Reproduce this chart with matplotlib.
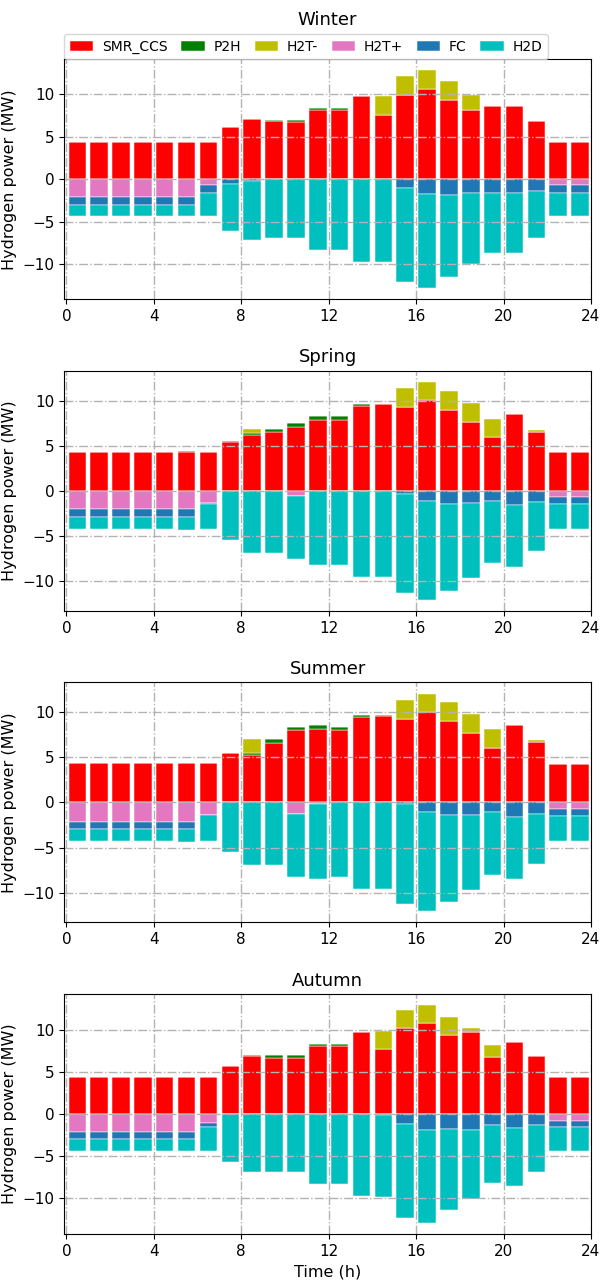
#%%
import numpy
import matplotlib

matplotlib.use("Agg")
import matplotlib.pyplot as plt

hours = numpy.arange(24)
seasons = ["Winter", "Spring", "Summer", "Autumn"]
names = ["SMR_CCS", "P2H", "H2T-", "H2T+", "FC", "H2D"]
colors = ["red", "green", "y", "tab:pink", "tab:blue", "c"]

#%% winter
smrW = [4.33, 4.33, 4.33, 4.33, 4.33, 4.33, 4.33, 6.17, 7.07, 6.84, 6.68, 8.09,
        8.09, 9.73, 7.58, 9.92, 10.63, 9.30, 8.13, 8.55, 8.55, 6.80, 4.33, 4.33]
p2hW = [0, 0, 0, 0, 0, 0, 0, 0, 0, 0.10, 0.23, 0.27,
        0.27, 0, 0, 0, 0, 0, 0, 0, 0, 0, 0, 0]
h2tmW = [0, 0, 0, 0, 0, 0, 0, 0, 0, 0, 0, 0,
         0, 0, 2.15, 2.23, 2.15, 2.19, 1.72, 0, 0, 0, 0, 0]
h2tpW = [2.13, 2.13, 2.13, 2.13, 2.13, 2.13, 0.72, 0, 0, 0, 0, 0,
         0, 0, 0, 0, 0, 0, 0, 0, 0, 0, 0.70, 0.70]
fcW = [0.87, 0.87, 0.87, 0.87, 0.87, 0.87, 0.88, 0.60, 0.15, 0, 0, 0,
       0, 0, 0, 1.05, 1.76, 1.80, 1.64, 1.64, 1.64, 1.40, 0.90, 0.90]
h2dW = [1.30, 1.30, 1.30, 1.30, 1.30, 1.30, 2.73, 5.50, 6.92, 6.95, 6.92, 8.30,
        8.30, 9.70, 9.75, 11.05, 11.04, 9.65, 8.26, 6.96, 6.96, 5.48, 2.73, 2.73]

#%% spring
smrSp = [4.33, 4.33, 4.33, 4.33, 4.33, 4.33, 4.33, 5.41, 6.22, 6.52, 7.15, 7.89,
         7.89, 9.44, 9.67, 9.30, 10.07, 9.04, 7.63, 5.96, 8.52, 6.59, 4.33, 4.33]
p2hSp = [0, 0, 0, 0, 0, 0.05, 0, 0.15, 0.22, 0.37, 0.45, 0.44,
         0.44, 0.22, 0, 0, 0, 0, 0, 0, 0, 0, 0, 0]
h2tmSp = [0, 0, 0, 0, 0, 0, 0, 0, 0.44, 0, 0, 0,
          0, 0, 0, 2.10, 2.07, 2.07, 2.15, 2.07, 0, 0.18, 0, 0]
h2tpSp = [2.07, 2.07, 2.07, 2.07, 2.07, 2.07, 1.33, 0, 0, 0, 0.63, 0,
          0, 0, 0, 0, 0, 0, 0, 0, 0, 0, 0.67, 0.67]
fcSp = [0.86, 0.86, 0.86, 0.86, 0.86, 0.86, 0.10, 0, 0, 0, 0, 0,
        0, 0, 0, 0.33, 1.10, 1.52, 1.41, 1.15, 1.63, 1.30, 0.81, 0.81]
h2dSp = [1.35, 1.35, 1.35, 1.35, 1.35, 1.45, 2.82, 5.50, 6.87, 6.87, 6.92, 8.27,
         8.27, 9.63, 9.63, 11.07, 11.00, 9.58, 8.29, 6.89, 6.87, 5.43, 2.77, 2.77]

#%% summer
smrSu = [4.30, 4.30, 4.30, 4.30, 4.30, 4.30, 4.30, 5.40, 5.22, 6.58, 7.98, 8.16,
         7.98, 9.45, 9.52, 9.19, 9.96, 9.00, 7.65, 5.96, 8.53, 6.62, 4.28, 4.28]
p2hSu = [0, 0, 0, 0, 0, 0.10, 0, 0.10, 0.26, 0.37, 0.37, 0.40,
         0.37, 0.22, 0.10, 0, 0, 0, 0, 0, 0, 0, 0, 0]
h2tmSu = [0, 0, 0, 0, 0, 0, 0, 0, 1.51, 0, 0, 0,
          0, 0, 0, 2.10, 2.06, 2.06, 2.10, 2.10, 0, 0.22, 0, 0]
h2tpSu = [2.13, 2.13, 2.13, 2.13, 2.13, 2.13, 1.36, 0, 0, 0, 1.32, 0.15,
          0, 0, 0, 0, 0, 0, 0, 0, 0, 0, 0.70, 0.70]
fcSu = [0.78, 0.78, 0.78, 0.78, 0.78, 0.78, 0, 0, 0, 0, 0, 0,
        0, 0, 0, 0.20, 1.03, 1.40, 1.40, 1.10, 1.62, 1.32, 0.80, 0.80]
h2dSu = [1.34, 1.34, 1.34, 1.34, 1.34, 1.45, 2.89, 5.48, 6.90, 6.90, 6.98, 8.35,
         8.30, 9.62, 9.62, 11.05, 11.03, 9.67, 8.30, 6.97, 6.88, 5.46, 2.75, 2.75]

#%% autumn
smrA = [4.35, 4.35, 4.35, 4.35, 4.35, 4.35, 4.35, 5.65, 6.92, 6.68, 6.68, 8.10,
        8.10, 9.68, 7.70, 10.16, 10.79, 9.33, 9.72, 6.76, 8.50, 6.84, 4.35, 4.35]
p2hA = [0, 0, 0, 0, 0, 0, 0, 0, 0.08, 0.28, 0.28, 0.16,
        0.16, 0, 0, 0, 0, 0, 0, 0, 0, 0, 0, 0]
h2tmA = [0, 0, 0, 0, 0, 0, 0, 0, 0, 0, 0, 0,
         0, 0, 2.13, 2.17, 2.17, 2.13, 0.43, 1.42, 0, 0, 0, 0]
h2tpA = [2.13, 2.13, 2.13, 2.13, 2.13, 2.13, 1.03, 0, 0, 0, 0, 0,
         0, 0, 0, 0, 0, 0, 0, 0, 0, 0, 0.79, 0.79]
fcA = [0.87, 0.87, 0.87, 0.87, 0.87, 0.87, 0.51, 0, 0, 0, 0, 0,
       0, 0, 0.10, 1.23, 1.90, 1.78, 1.90, 1.34, 1.70, 1.34, 0.75, 0.75]
h2dA = [1.35, 1.35, 1.35, 1.35, 1.35, 1.35, 2.81, 5.67, 6.95, 6.95, 6.95, 8.30,
        8.30, 9.72, 9.76, 11.10, 11.02, 9.68, 8.22, 6.88, 6.85, 5.52, 2.81, 2.81]

data = {
    "Winter": [smrW, p2hW, h2tmW, h2tpW, fcW, h2dW],
    "Spring": [smrSp, p2hSp, h2tmSp, h2tpSp, fcSp, h2dSp],
    "Summer": [smrSu, p2hSu, h2tmSu, h2tpSu, fcSu, h2dSu],
    "Autumn": [smrA, p2hA, h2tmA, h2tpA, fcA, h2dA],
}

#%%
fig, axes = plt.subplots(4, 1, figsize=(6, 12.88), dpi=100)
fig.subplots_adjust(left=0.107, right=0.985, top=0.954, bottom=0.042, hspace=0.298)

barOpts = dict(width=0.8, edgecolor="white", linewidth=0.35)
for ax, season in zip(axes, seasons):
    series = [numpy.array(s, dtype=float) for s in data[season]]
    x = hours + 0.5
    handles = []
    # supply side stacked upwards
    bottom = numpy.zeros(24)
    for k in [0, 1, 2]:
        h = ax.bar(x, series[k], bottom=bottom, color=colors[k], label=names[k], **barOpts)
        bottom += series[k]
        handles.append(h)
    top = bottom.max()
    # demand side stacked downwards
    bottom = numpy.zeros(24)
    for k in [3, 4, 5]:
        h = ax.bar(x, -series[k], bottom=bottom, color=colors[k], label=names[k], **barOpts)
        bottom -= series[k]
        handles.append(h)
    lim = 1.1 * max(top, -bottom.min())
    ax.set_ylim(-lim, lim)
    ax.set_xlim(-0.1, 24)
    ax.set_xticks(range(0, 25, 4))
    ax.set_yticks([-10, -5, 0, 5, 10])
    ax.tick_params(labelsize=11)
    ax.grid(True, linestyle="-.", color="0.7", linewidth=1.0)
    ax.set_ylabel("Hydrogen power (MW)", fontsize=11.5)
    ax.set_title(season, fontsize=13, pad=6)

axes[0].set_title("Winter", fontsize=13, pad=25)
axes[0].legend(
    handles,
    names,
    loc="lower left",
    bbox_to_anchor=(0, 1.0),
    borderaxespad=0,
    ncol=6,
    fontsize=10,
    handlelength=1.7,
    handletextpad=0.6,
    columnspacing=1.0,
)
axes[-1].set_xlabel("Time (h)", fontsize=11.5)

fig.savefig("out.png", dpi=100)
